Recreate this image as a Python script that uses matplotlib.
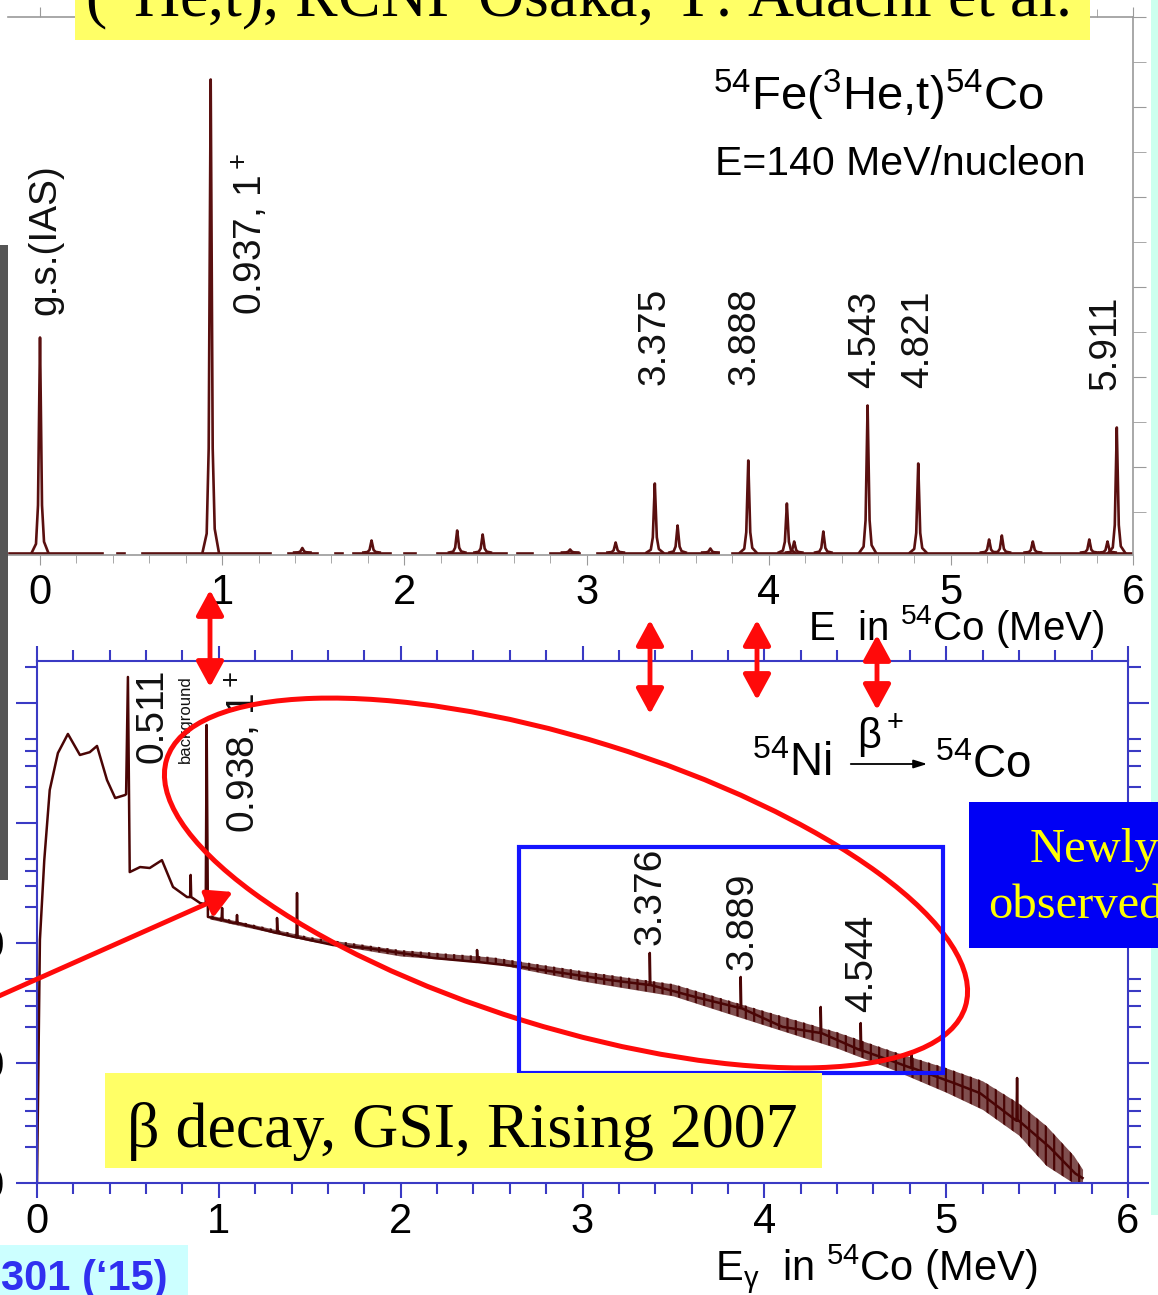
import numpy as np
import matplotlib
matplotlib.use("Agg")
import matplotlib.pyplot as plt
from matplotlib.patches import Rectangle, Ellipse, FancyArrowPatch
from matplotlib.ticker import MultipleLocator, LogLocator, FixedLocator, NullFormatter, FuncFormatter

plt.rcParams['font.family'] = ['Liberation Sans', 'DejaVu Sans']
plt.rcParams['mathtext.fontset'] = 'custom'
plt.rcParams['mathtext.rm'] = 'Liberation Sans'
plt.rcParams['mathtext.it'] = 'Liberation Sans:italic'
plt.rcParams['mathtext.bf'] = 'Liberation Sans:bold'
plt.rcParams['hatch.linewidth'] = 1.6

W, H = 1158, 1295

# --- (3He,t) spectrum, peak energies (MeV) and heights (counts)
top_E = [0.0, 0.937, 1.44, 1.82, 2.29, 2.43, 2.91, 3.16, 3.375, 3.50, 3.68,
         3.888, 4.10, 4.14, 4.30, 4.543, 4.821, 5.21, 5.28, 5.45, 5.76, 5.86, 5.911]
top_h = [2150, 4730, 45, 120, 220, 180, 30, 100, 690, 270, 40,
         920, 490, 110, 210, 1470, 890, 130, 170, 110, 130, 110, 1250]
top_base = 25
top_gaps = [(0.34, 0.42), (0.46, 0.56), (1.26, 1.36), (1.52, 1.62), (1.66, 1.72),
            (1.92, 2.0), (2.06, 2.18), (2.56, 2.62), (2.70, 2.80), (2.96, 3.06), (3.72, 3.80)]
top_lab = ["g.s.(IAS)", "0.937, 1$^+$", "3.375", "3.888", "4.543", "4.821", "5.911"]
top_lab_E = [0.027, 1.153, 3.375, 3.87, 4.53, 4.82, 5.85]
top_lab_y = [2400, 2400, 1700, 1700, 1670, 1670, 1650]

# --- beta-decay gamma spectrum: continuum (MeV, counts)
bot_E = [0.0, 0.016, 0.04, 0.07, 0.115, 0.17, 0.236, 0.29, 0.33, 0.385, 0.43, 0.484,
         0.49, 0.50, 0.51, 0.567, 0.62, 0.687, 0.748, 0.825, 0.897, 0.928, 0.933, 0.94,
         1.078, 1.32, 1.447, 1.628, 1.815, 2.0, 2.18, 2.42, 2.67, 3.146, 3.37, 3.62,
         3.87, 4.10, 4.31, 4.53, 4.686, 4.81, 5.044, 5.187, 5.40, 5.567, 5.71, 5.75]
bot_c = [10, 1059, 4898, 18836, 38282, 55208, 36898, 38905, 43853, 22803, 16144, 17100,
         17400, 164800, 3900, 4295, 4217, 4900, 2931, 2415, 2153, 2100, 65600, 1650,
         1469, 1211, 1101, 962, 908, 826, 750, 695, 631, 492, 447, 355,
         287, 200, 178, 128, 106, 91, 68, 56, 33, 20, 12, 11]
# narrow gamma lines: energy, base, top
spike_E = [0.845, 1.018, 1.10, 1.32, 1.43, 2.42, 3.37, 3.87, 4.31, 4.53, 4.81, 5.39]
spike_lo = [2415, 1555, 1469, 1211, 1113, 695, 447, 287, 178, 128, 91, 33]
spike_hi = [3690, 1958, 1711, 1616, 2610, 874, 826, 521, 293, 215, 121, 75]
# statistical scatter envelope
band_E = [0.95, 1.5, 2.0, 2.5, 3.0, 3.5, 4.0, 4.4, 4.7, 5.0, 5.2, 5.4, 5.55, 5.7, 5.75]
band_lo = [1585, 1040, 779, 681, 482, 362, 207, 133, 89, 57, 41, 25, 14, 10, 10]
band_hi = [1711, 1122, 874, 764, 584, 455, 271, 181, 126, 91, 71, 46, 30, 17, 13]
bot_lab = ["0.511", "0.938, 1$^+$", "3.376", "3.889", "4.544"]
bot_lab_E = [0.633, 1.133, 3.372, 3.878, 4.538]
bot_lab_y = [31623, 8254, 962, 596, 266]


def frac(x0, y0, x1, y1):
    return [x0 / W, 1 - y1 / H, (x1 - x0) / W, (y1 - y0) / H]


fig = plt.figure(figsize=(W / 100, H / 100), dpi=100)
spec = '#5a1010'

# ================= top panel =================
grey = '#9a9a9a'
ax1 = fig.add_axes(frac(8, 17, 1133, 555))
ax1.set_xlim(-0.1757, 6.0)
ax1.set_ylim(0, 5380)
ax1.spines['left'].set_visible(False)
for s in ['top', 'right', 'bottom']:
    ax1.spines[s].set_color(grey)
    ax1.spines[s].set_linewidth(1.2)

prof_dE = np.array([-0.045, -0.022, -0.011, -0.005, 0.0, 0.005, 0.011, 0.022, 0.045])
prof_f = np.array([0.0, 0.04, 0.22, 0.65, 1.0, 0.65, 0.22, 0.05, 0.0])
for c, h in zip(top_E, top_h):
    ax1.plot(c + prof_dE, top_base + h * prof_f, color=spec, lw=1.9)
edges = [-0.17] + [v for g in top_gaps for v in g] + [6.0]
for a, b in zip(edges[0::2], edges[1::2]):
    ax1.plot([a, b], [top_base, top_base], color=spec, lw=1.9)

ax1.xaxis.set_major_locator(MultipleLocator(1))
ax1.xaxis.set_minor_locator(MultipleLocator(0.2))
ax1.yaxis.set_major_locator(FixedLocator(np.arange(880, 5400, 900)))
ax1.yaxis.set_minor_locator(FixedLocator(np.arange(430, 5400, 900)))
ax1.tick_params(axis='x', which='both', direction='out', top=True, bottom=True,
                color=grey, labelsize=30, pad=6)
ax1.tick_params(axis='x', which='major', length=7)
ax1.tick_params(axis='x', which='minor', length=6)
ax1.tick_params(axis='y', which='both', direction='out', left=False, right=True,
                labelleft=False, color=grey, length=9)

for t, e, y in zip(top_lab, top_lab_E, top_lab_y):
    ax1.text(e, y, t, rotation=90, ha='center', va='bottom', size=28, color='#111111')

# ================= bottom panel =================
blue = '#3a3ac4'
ax2 = fig.add_axes(frac(37, 661, 1128, 1183))
ax2.set_xlim(0, 6)
ax2.set_yscale('log')
ax2.set_ylim(10, 10 ** 5.35)
for s in ax2.spines.values():
    s.set_color(blue)
    s.set_linewidth(1.5)

pts = list(zip(bot_E, bot_c))
for e, lo, hi in zip(spike_E, spike_lo, spike_hi):
    pts += [(e - 0.003, lo), (e, hi), (e + 0.003, lo)]
pts.sort()
bcol = '#4a0505'
ax2.fill_between(band_E, band_lo, band_hi, color=bcol, lw=0, alpha=0.7)
ax2.fill_between(band_E, band_lo, band_hi, facecolor='none', edgecolor=bcol, lw=0, hatch='||')
ax2.plot([p[0] for p in pts], [p[1] for p in pts], color=bcol, lw=1.8)

ax2.xaxis.set_major_locator(MultipleLocator(1))
ax2.xaxis.set_minor_locator(MultipleLocator(0.2))
ax2.yaxis.set_major_locator(LogLocator(base=10))
ax2.yaxis.set_minor_locator(LogLocator(base=10, subs=[2, 3, 4, 5]))
ax2.yaxis.set_minor_formatter(NullFormatter())
ax2.yaxis.set_major_formatter(FuncFormatter(lambda v, p: f'{int(round(v))}'))
ax2.tick_params(which='both', direction='out', top=True, right=True, color=blue, width=1.5)
ax2.tick_params(axis='x', which='major', length=11, labelsize=30, pad=3)
ax2.tick_params(axis='x', which='minor', length=8)
ax2.tick_params(axis='y', which='major', length=15, labelsize=30, pad=8)
ax2.tick_params(axis='y', which='minor', length=9)

for t, e, y in zip(bot_lab, bot_lab_E, bot_lab_y):
    ax2.text(e, y, t, rotation=90, ha='center', va='bottom', size=28, color='#111111')
ax2.text(0.814, 31623, 'background', rotation=90, ha='center', va='bottom', size=12,
         color='#111111')

# ================= slide overlay =================
ov = fig.add_axes([0, 0, 1, 1])
ov.set_xlim(0, W)
ov.set_ylim(H, 0)
ov.axis('off')
ov.patch.set_alpha(0)

ov.add_patch(Rectangle((0, 245), 8, 635, fc='#555555', ec='none'))
ov.add_patch(Rectangle((1151, 0), 7, 1215, fc='#ccffee', ec='none'))

ov.text(808, 640, 'E  in $^{54}$Co (MeV)', size=29, va='baseline')
ov.text(715, 1280, 'E$_{\\mathrm{γ}}$  in $^{54}$Co (MeV)', size=30, va='baseline')
ov.text(713, 110, '$^{54}$Fe($^3$He,t)$^{54}$Co', size=34, va='baseline')
ov.text(715, 175, 'E=140 MeV/nucleon', size=29.5, va='baseline')

ov.text(752, 776, '$^{54}$Ni', size=33, va='baseline')
ov.annotate('', xy=(930, 764), xytext=(848, 764),
            arrowprops=dict(arrowstyle='-|>,head_length=0.8,head_width=0.25', color='black', lw=1.3))
ov.text(880, 748, 'β$^+$', size=30, va='baseline', ha='center')
ov.text(935, 778, '$^{54}$Co', size=33, va='baseline')

# title box
ov.add_patch(Rectangle((75, 0), 1015, 40, fc='#ffff66', ec='none'))
ov.text(85, 17, '($^3$He,t), RCNP Osaka, Y. Adachi et al.', family='Liberation Serif',
        size=46, va='baseline')

# arrows linking the two spectra
red = '#ff0a0a'
hstyle = '<|-|>,head_length=1.1,head_width=0.6'
for x, y0, y1 in [(210, 590, 687), (650, 620, 714), (757, 620, 700), (877, 635, 710)]:
    ov.add_patch(FancyArrowPatch((x, y0), (x, y1), arrowstyle=hstyle, mutation_scale=14,
                                 shrinkA=0, shrinkB=0, color=red, lw=3.5))
ov.add_patch(FancyArrowPatch((-10, 1000), (233, 892), arrowstyle='-|>,head_length=1.1,head_width=0.6',
                             mutation_scale=14, shrinkA=0, shrinkB=0, color=red, lw=3.5))
ov.add_patch(Ellipse((566, 883), 836, 288, angle=17.2, fill=False, ec=red, lw=3.6))

ov.add_patch(Rectangle((519, 847), 424, 226, fill=False, ec='#1414ff', lw=3))
ov.add_patch(Rectangle((969, 802), 200, 146, fc='#0000f5', ec='none'))
ov.text(1030, 862, 'Newly', family='Liberation Serif', size=35, color='#ffff00', va='baseline')
ov.text(988, 918, 'observed', family='Liberation Serif', size=35, color='#ffff00', va='baseline')

ov.add_patch(Rectangle((105, 1073), 717, 95, fc='#ffff66', ec='none'))
ov.text(127, 1147, 'β decay, GSI, Rising 2007', family='Liberation Serif', size=46, va='baseline')

ov.add_patch(Rectangle((0, 1245), 188, 60, fc='#ccffff', ec='none'))
ov.text(1, 1290, "301 (‘15)", size=30, weight='bold', color='#3030f0', va='baseline')

fig.savefig('out.png', dpi=100)
